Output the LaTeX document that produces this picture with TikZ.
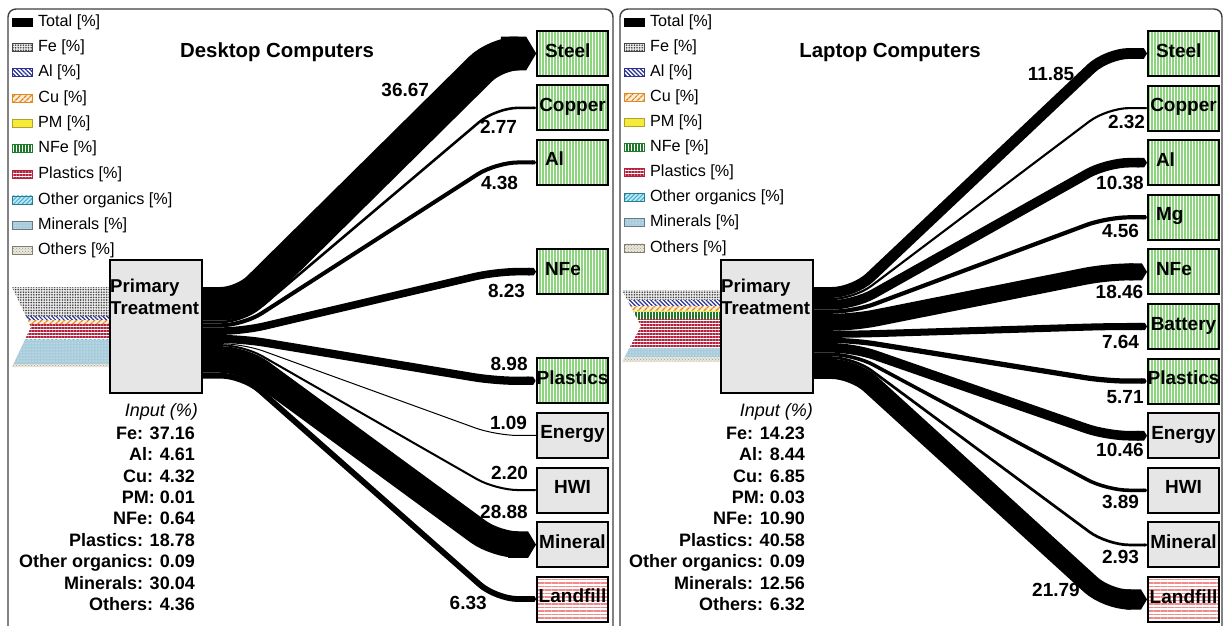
\documentclass[tikz,border=0pt]{standalone}
\usepackage{fontspec}
\setmainfont{Liberation Sans}
\usepackage{xcolor}
\usepackage{tikz}
\usetikzlibrary{arrows.meta,positioning,calc,patterns,patterns.meta}
\definecolor{boxgray}{HTML}{E6E6E6}
\definecolor{greencol}{HTML}{8CD47E}
\definecolor{redcol}{HTML}{F08A8A}
\definecolor{fecol}{HTML}{454545}
\definecolor{alcol}{HTML}{2B2F8F}
\definecolor{cucol}{HTML}{E08A1E}
\definecolor{pmcol}{HTML}{F7EA3A}
\definecolor{nfecol}{HTML}{1F7A2A}
\definecolor{plcol}{HTML}{B5213A}
\definecolor{orgcol}{HTML}{3BB0D0}
\definecolor{mincol}{HTML}{A8CCDC}
\definecolor{othcol}{HTML}{A39E82}
\definecolor{framecol}{HTML}{404040}
\tikzset{
  % materials
  mtotal/.style={fill=black},
  mfe/.style={preaction={fill=gray!15}, pattern={Dots[radius=0.9pt,distance=2.6pt]}, pattern color=fecol},
  mal/.style={preaction={fill=white}, pattern={Lines[angle=-45,distance=3pt,line width=1.2pt]}, pattern color=alcol},
  mcu/.style={preaction={fill=cucol!15}, pattern={Lines[angle=45,distance=4pt,line width=1.4pt]}, pattern color=cucol},
  mpm/.style={fill=pmcol},
  mnfe/.style={preaction={fill=white}, pattern={Lines[angle=90,distance=3pt,line width=1.3pt]}, pattern color=nfecol},
  mpl/.style={preaction={fill=white}, pattern={Lines[angle=0,distance=3pt,line width=1.4pt]}, pattern color=plcol},
  morg/.style={preaction={fill=orgcol!30}, pattern={Lines[angle=45,distance=3pt,line width=1pt]}, pattern color=orgcol},
  mmin/.style={preaction={fill=mincol}, pattern=dots, pattern color=white},
  moth/.style={preaction={fill=othcol!25}, pattern=crosshatch dots, pattern color=othcol},
  swatch/.style={draw=#1, line width=0.8pt, minimum width=20pt, minimum height=8pt, inner sep=0pt},
  legtext/.style={font=\fontsize{16.2}{19}\selectfont, inner sep=0pt, anchor=west},
  title/.style={font=\bfseries\fontsize{20.4}{24}\selectfont, inner sep=0pt},
  panel/.style={draw=framecol, line width=1.4pt, rounded corners=8pt},
  process/.style={draw=black, line width=2pt, fill=boxgray,
    minimum width=92pt, minimum height=133pt, inner sep=0pt},
  proctext/.style={font=\bfseries\fontsize{18.6}{22}\selectfont, inner sep=0pt,
    align=left, anchor=north west},
  outbox/.style={draw=black, line width=2pt, minimum width=71pt, minimum height=45pt,
    inner sep=0pt, font=\bfseries\fontsize{19}{22}\selectfont,
    text height=14pt, text depth=7pt},
  outleft/.style={text width=55pt, align=left},
  outgreen/.style={outbox, preaction={fill=white},
    pattern={Lines[angle=90,distance=3pt,line width=1.5pt]}, pattern color=greencol},
  outgray/.style={outbox, fill=boxgray},
  outred/.style={outbox, preaction={fill=white},
    pattern={Lines[angle=0,distance=3.5pt,line width=1.6pt]}, pattern color=redcol},
  flow/.style={draw=black, rounded corners=22pt, -{Triangle Cap[length=0pt .3]}},
  flowlabel/.style={font=\bfseries\fontsize{19}{22}\selectfont, inner sep=0pt},
  inputlab/.style={font=\itshape\fontsize{18}{21}\selectfont, inner sep=0pt, anchor=north east},
  inlist/.style={font=\bfseries\fontsize{18}{21.4}\selectfont, inner sep=0pt,
    align=right, anchor=north east},
}
\begin{document}
\begin{tikzpicture}[x=1pt, y=-1pt, node distance=7.6pt]
\path[fill=white, use as bounding box] (0,0) rectangle (1224,625);

% ===== Desktop panel =====
\draw[panel] (8,630) -- (8,9) -- (613,9) -- (613,630);
\node[title] (dtitle) at (277,52) {Desktop Computers};

% legend
\node[swatch=black, mtotal] (dl1) at (22.5,22) {};
\node[legtext, right=5pt of dl1] (dl1t) {Total [\%]};
\node[swatch=fecol, mfe, below=16.3pt of dl1] (dl2) {};
\node[legtext, right=5pt of dl2] (dl2t) {Fe [\%]};
\node[swatch=alcol, mal, below=16.3pt of dl2] (dl3) {};
\node[legtext, right=5pt of dl3] (dl3t) {Al [\%]};
\node[swatch=cucol, mcu, below=16.3pt of dl3] (dl4) {};
\node[legtext, right=5pt of dl4] (dl4t) {Cu [\%]};
\node[swatch=pmcol!70!black, mpm, below=16.3pt of dl4] (dl5) {};
\node[legtext, right=5pt of dl5] (dl5t) {PM [\%]};
\node[swatch=nfecol, mnfe, below=16.3pt of dl5] (dl6) {};
\node[legtext, right=5pt of dl6] (dl6t) {NFe [\%]};
\node[swatch=plcol, mpl, below=16.3pt of dl6] (dl7) {};
\node[legtext, right=5pt of dl7] (dl7t) {Plastics [\%]};
\node[swatch=orgcol!70!black, morg, below=16.3pt of dl7] (dl8) {};
\node[legtext, right=5pt of dl8] (dl8t) {Other organics [\%]};
\node[swatch=mincol!60!black, mmin, below=16.3pt of dl8] (dl9) {};
\node[legtext, right=5pt of dl9] (dl9t) {Minerals [\%]};
\node[swatch=othcol!80!black, moth, below=16.3pt of dl9] (dl10) {};
\node[legtext, right=5pt of dl10] (dl10t) {Others [\%]};

% input arrow
\begin{scope}
  \clip (12,287) -- (109,287) -- (109,367) -- (12,367) -- (31,327) -- cycle;
  \path[mfe] (12,287) rectangle (109,316.7);
  \path[mal] (12,316.7) rectangle (109,320.4);
  \path[mcu] (12,320.4) rectangle (109,323.9);
  \path[mpm] (12,323.9) rectangle (109,324.2);
  \path[mnfe] (12,324.2) rectangle (109,324.7);
  \path[mpl] (12,324.7) rectangle (109,339.4);
  \path[morg] (12,339.4) rectangle (109,339.5);
  \path[mmin] (12,339.5) rectangle (109,363.5);
  \path[moth] (12,363.5) rectangle (109,367);
\end{scope}

\node[process] (ptd) at (156,326.5) {};
\node[proctext] (ptdtext) at ($(ptd.north west)+(1,19.4)$) {Primary\\Treatment};
\node[inputlab] (inputd) at (198,403.3) {Input (\%)};
\node[inlist] (inlistd) at (195,426.6) {Fe: 37.16\\Al: 4.61\\Cu: 4.32\\PM: 0.01\\NFe: 0.64\\
  Plastics: 18.78\\Other organics: 0.09\\Minerals: 30.04\\Others: 4.36};

% outputs
\node[outgreen, outleft] (dsteel) at (572.5,53.5) {Steel};
\node[outgreen, below=of dsteel] (dcopper) {Copper};
\node[outgreen, outleft, below=of dcopper] (dal) {Al};
\node[outgreen, outleft, below=62.2pt of dal] (dnfe) {NFe};
\node[outgreen, below=62.2pt of dnfe] (dplast) {Plastics};
\node[outgray, below=of dplast] (denergy) {Energy};
\node[outgray, below=of denergy] (dhwi) {HWI};
\node[outgray, below=of dhwi] (dmineral) {Mineral};
\node[outred, below=of dmineral] (dlandfill) {Landfill};

% flows
\coordinate (ds-steel) at ($(ptd.north east)+(0,44.87)$);
\coordinate (ds-copper) at ($(ptd.north east)+(0,63.01)$);
\coordinate (ds-al) at ($(ptd.north east)+(0,66.30)$);
\coordinate (ds-nfe) at ($(ptd.north east)+(0,72.10)$);
\coordinate (ds-plast) at ($(ptd.north east)+(0,80.02)$);
\coordinate (ds-energy) at ($(ptd.north east)+(0,84.65)$);
\coordinate (ds-hwi) at ($(ptd.north east)+(0,86.16)$);
\coordinate (ds-mineral) at ($(ptd.north east)+(0,100.45)$);
\coordinate (ds-landfill) at ($(ptd.north east)+(0,116.65)$);

\draw[flow, line width=33.74pt] (ds-steel) -- ++(40,0) -- ($(dsteel.west)+(-40,0)$) -- (dsteel.west);
\draw[flow, line width=2.55pt] (ds-copper) -- ++(40,0) -- ($(dcopper.west)+(-40,0)$) -- (dcopper.west);
\draw[flow, line width=4.03pt] (ds-al) -- ++(40,0) -- ($(dal.west)+(-40,0)$) -- (dal.west);
\draw[flow, line width=7.57pt] (ds-nfe) -- ++(40,0) -- ($(dnfe.west)+(-40,0)$) -- (dnfe.west);
\draw[flow, line width=8.26pt] (ds-plast) -- ++(40,0) -- ($(dplast.west)+(-40,0)$) -- (dplast.west);
\draw[flow, line width=1.0pt] (ds-energy) -- ++(40,0) -- ($(denergy.west)+(-40,0)$) -- (denergy.west);
\draw[flow, line width=2.02pt] (ds-hwi) -- ++(40,0) -- ($(dhwi.west)+(-40,0)$) -- (dhwi.west);
\draw[flow, line width=26.57pt] (ds-mineral) -- ++(40,0) -- ($(dmineral.west)+(-40,0)$) -- (dmineral.west);
\draw[flow, line width=5.82pt] (ds-landfill) -- ++(40,0) -- ($(dlandfill.west)+(-40,0)$) -- (dlandfill.west);

\node[flowlabel] (dv-steel) at ($(dsteel.west)+(-131,36.5)$) {36.67};
\node[flowlabel] (dv-copper) at ($(dcopper.west)+(-37.5,19.5)$) {2.77};
\node[flowlabel] (dv-al) at ($(dal.west)+(-36.5,20.5)$) {4.38};
\node[flowlabel] (dv-nfe) at ($(dnfe.west)+(-29.5,19.5)$) {8.23};
\node[flowlabel] (dv-plast) at ($(dplast.west)+(-26.5,-16.5)$) {8.98};
\node[flowlabel] (dv-energy) at ($(denergy.west)+(-27.5,-12.5)$) {1.09};
\node[flowlabel] (dv-hwi) at ($(dhwi.west)+(-26.5,-17.5)$) {2.20};
\node[flowlabel] (dv-mineral) at ($(dmineral.west)+(-32,-32.5)$) {28.88};
\node[flowlabel] (dv-landfill) at ($(dlandfill.west)+(-68,3.5)$) {6.33};

% ===== Laptop panel =====
\draw[panel] (620,630) -- (620,9) -- (1222,9) -- (1222,630);
\node[title] (ltitle) at (890,52) {Laptop Computers};

% legend
\node[swatch=black, mtotal] (ll1) at (634.5,22) {};
\node[legtext, right=5pt of ll1] (ll1t) {Total [\%]};
\node[swatch=fecol, mfe, below=16.3pt of ll1] (ll2) {};
\node[legtext, right=5pt of ll2] (ll2t) {Fe [\%]};
\node[swatch=alcol, mal, below=16.3pt of ll2] (ll3) {};
\node[legtext, right=5pt of ll3] (ll3t) {Al [\%]};
\node[swatch=cucol, mcu, below=16.3pt of ll3] (ll4) {};
\node[legtext, right=5pt of ll4] (ll4t) {Cu [\%]};
\node[swatch=pmcol!70!black, mpm, below=16.3pt of ll4] (ll5) {};
\node[legtext, right=5pt of ll5] (ll5t) {PM [\%]};
\node[swatch=nfecol, mnfe, below=16.3pt of ll5] (ll6) {};
\node[legtext, right=5pt of ll6] (ll6t) {NFe [\%]};
\node[swatch=plcol, mpl, below=16.3pt of ll6] (ll7) {};
\node[legtext, right=5pt of ll7] (ll7t) {Plastics [\%]};
\node[swatch=orgcol!70!black, morg, below=16.3pt of ll7] (ll8) {};
\node[legtext, right=5pt of ll8] (ll8t) {Other organics [\%]};
\node[swatch=mincol!60!black, mmin, below=16.3pt of ll8] (ll9) {};
\node[legtext, right=5pt of ll9] (ll9t) {Minerals [\%]};
\node[swatch=othcol!80!black, moth, below=16.3pt of ll9] (ll10) {};
\node[legtext, right=5pt of ll10] (ll10t) {Others [\%]};

% input arrow
\begin{scope}
  \clip (622,290) -- (720,290) -- (720,362) -- (622,362) -- (641,326) -- cycle;
  \path[mfe] (622,290) rectangle (720,300.25);
  \path[mal] (622,300.25) rectangle (720,306.3);
  \path[mcu] (622,306.3) rectangle (720,311.2);
  \path[mpm] (622,311.2) rectangle (720,312);
  \path[mnfe] (622,312) rectangle (720,319.1);
  \path[mpl] (622,319.1) rectangle (720,348.35);
  \path[morg] (622,348.35) rectangle (720,348.45);
  \path[mmin] (622,348.45) rectangle (720,357.45);
  \path[moth] (622,357.45) rectangle (720,362);
\end{scope}

\node[process] (ptl) at (767,326.5) {};
\node[proctext] (ptltext) at ($(ptl.north west)+(1,19.4)$) {Primary\\Treatment};
\node[inputlab] (inputl) at (813,403.3) {Input (\%)};
\node[inlist] (inlistl) at (805,426.6) {Fe: 14.23\\Al: 8.44\\Cu: 6.85\\PM: 0.03\\NFe: 10.90\\
  Plastics: 40.58\\Other organics: 0.09\\Minerals: 12.56\\Others: 6.32};

% outputs
\node[outgreen, outleft] (lsteel) at (1183.5,53.5) {Steel};
\node[outgreen, below=of lsteel] (lcopper) {Copper};
\node[outgreen, outleft, below=of lcopper] (lal) {Al};
\node[outgreen, outleft, below=of lal] (lmg) {Mg};
\node[outgreen, outleft, below=of lmg] (lnfe) {NFe};
\node[outgreen, below=of lnfe] (lbattery) {Battery};
\node[outgreen, below=of lbattery] (lplast) {Plastics};
\node[outgray, below=of lplast] (lenergy) {Energy};
\node[outgray, below=of lenergy] (lhwi) {HWI};
\node[outgray, below=of lhwi] (lmineral) {Mineral};
\node[outred, below=of lmineral] (llandfill) {Landfill};

% flows
\coordinate (ls-steel) at ($(ptl.north east)+(0,33.45)$);
\coordinate (ls-copper) at ($(ptl.north east)+(0,39.97)$);
\coordinate (ls-al) at ($(ptl.north east)+(0,45.80)$);
\coordinate (ls-mg) at ($(ptl.north east)+(0,52.68)$);
\coordinate (ls-nfe) at ($(ptl.north east)+(0,63.27)$);
\coordinate (ls-battery) at ($(ptl.north east)+(0,75.28)$);
\coordinate (ls-plast) at ($(ptl.north east)+(0,81.42)$);
\coordinate (ls-energy) at ($(ptl.north east)+(0,88.85)$);
\coordinate (ls-hwi) at ($(ptl.north east)+(0,95.45)$);
\coordinate (ls-mineral) at ($(ptl.north east)+(0,98.59)$);
\coordinate (ls-landfill) at ($(ptl.north east)+(0,109.96)$);

\draw[flow, line width=10.90pt] (ls-steel) -- ++(40,0) -- ($(lsteel.west)+(-40,0)$) -- (lsteel.west);
\draw[flow, line width=2.13pt] (ls-copper) -- ++(40,0) -- ($(lcopper.west)+(-40,0)$) -- (lcopper.west);
\draw[flow, line width=9.55pt] (ls-al) -- ++(40,0) -- ($(lal.west)+(-40,0)$) -- (lal.west);
\draw[flow, line width=4.20pt] (ls-mg) -- ++(40,0) -- ($(lmg.west)+(-40,0)$) -- (lmg.west);
\draw[flow, line width=16.98pt] (ls-nfe) -- ++(40,0) -- ($(lnfe.west)+(-40,0)$) -- (lnfe.west);
\draw[flow, line width=7.03pt] (ls-battery) -- ++(40,0) -- ($(lbattery.west)+(-40,0)$) -- (lbattery.west);
\draw[flow, line width=5.25pt] (ls-plast) -- ++(40,0) -- ($(lplast.west)+(-40,0)$) -- (lplast.west);
\draw[flow, line width=9.62pt] (ls-energy) -- ++(40,0) -- ($(lenergy.west)+(-40,0)$) -- (lenergy.west);
\draw[flow, line width=3.58pt] (ls-hwi) -- ++(40,0) -- ($(lhwi.west)+(-40,0)$) -- (lhwi.west);
\draw[flow, line width=2.70pt] (ls-mineral) -- ++(40,0) -- ($(lmineral.west)+(-40,0)$) -- (lmineral.west);
\draw[flow, line width=20.05pt] (ls-landfill) -- ++(40,0) -- ($(llandfill.west)+(-40,0)$) -- (llandfill.west);

\node[flowlabel] (lv-steel) at ($(lsteel.west)+(-96,20.5)$) {11.85};
\node[flowlabel] (lv-copper) at ($(lcopper.west)+(-20.5,13.5)$) {2.32};
\node[flowlabel] (lv-al) at ($(lal.west)+(-27,20.5)$) {10.38};
\node[flowlabel] (lv-mg) at ($(lmg.west)+(-26.5,13.5)$) {4.56};
\node[flowlabel] (lv-nfe) at ($(lnfe.west)+(-27.5,20.5)$) {18.46};
\node[flowlabel] (lv-battery) at ($(lbattery.west)+(-26.5,15.5)$) {7.64};
\node[flowlabel] (lv-plast) at ($(lplast.west)+(-21.5,15.5)$) {5.71};
\node[flowlabel] (lv-energy) at ($(lenergy.west)+(-27,14.5)$) {10.46};
\node[flowlabel] (lv-hwi) at ($(lhwi.west)+(-26.5,11.5)$) {3.89};
\node[flowlabel] (lv-mineral) at ($(lmineral.west)+(-26.5,12.5)$) {2.93};
\node[flowlabel] (lv-landfill) at ($(llandfill.west)+(-91,-9.5)$) {21.79};

\end{tikzpicture}
\end{document}
